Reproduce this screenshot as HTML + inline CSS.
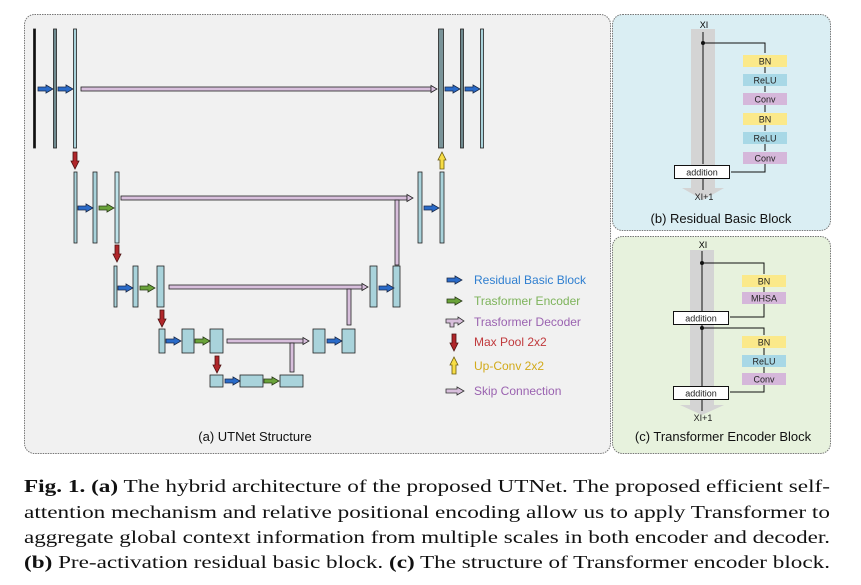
<!DOCTYPE html>
<html><head><meta charset="utf-8"><style>
html,body{margin:0;padding:0;background:#fff;}
svg{display:block;font-family:"Liberation Sans",sans-serif;}
</style></head><body>
<svg width="861" height="585" viewBox="0 0 861 585" xmlns="http://www.w3.org/2000/svg">
<defs>
<g id="ab"><polygon points="0,-2 8,-2 8,-4 15,0 8,4 8,2 0,2" fill="#2a6bc9" stroke="#1b2b4a" stroke-width="0.8"/></g>
<g id="ag"><polygon points="0,-2 8,-2 8,-4 15,0 8,4 8,2 0,2" fill="#6aa33a" stroke="#2b3b1a" stroke-width="0.8"/></g>
<g id="ar"><polygon points="-2,0 2,0 2,9 4,9 0,17 -4,9 -2,9" fill="#b0262a" stroke="#4a1010" stroke-width="0.8"/></g>
<g id="ay"><polygon points="-2,17 2,17 2,8 4,8 0,0 -4,8 -2,8" fill="#f7dd45" stroke="#6a5a10" stroke-width="0.8"/></g>
</defs>
<!-- panels -->
<rect x="24.5" y="14.5" width="586" height="439" rx="10" fill="#f1f1f1" stroke="#777" stroke-dasharray="1.5,1"/>
<rect x="612.5" y="14.5" width="218" height="216" rx="10" fill="#daeef3" stroke="#777" stroke-dasharray="1.5,1"/>
<rect x="612.5" y="236.5" width="218" height="217" rx="10" fill="#e7f2dd" stroke="#777" stroke-dasharray="1.5,1"/>

<g stroke="#222" stroke-width="0.8">
<!-- level1 -->
<rect x="33.5" y="29" width="2" height="119" fill="#111"/>
<rect x="53.5" y="29" width="3" height="119" fill="#6f8a8f"/>
<rect x="73.5" y="29" width="3" height="119" fill="#a9d3db"/>
<rect x="81" y="87" width="350" height="4" fill="#d8bfdc"/>
<polygon points="431,85.5 437,89 431,92.5" fill="#d8bfdc"/>
<rect x="438.5" y="29" width="5" height="119" fill="#7a9499"/>
<rect x="460.5" y="29" width="3" height="119" fill="#6f8a8f"/>
<rect x="480.5" y="29" width="3" height="119" fill="#a9d3db"/>
<!-- level2 -->
<rect x="74" y="172" width="3" height="71" fill="#a9d3db"/>
<rect x="93" y="172" width="4" height="71" fill="#a9d3db"/>
<rect x="115" y="172" width="4" height="71" fill="#bfe3ea"/>
<rect x="121" y="196" width="286" height="4" fill="#d8bfdc"/>
<polygon points="407,194.5 413,198 407,201.5" fill="#d8bfdc"/>
<rect x="395" y="200" width="4" height="65" fill="#d8bfdc"/>
<rect x="418" y="172" width="4" height="71" fill="#a9d3db"/>
<rect x="440" y="172" width="4" height="71" fill="#a9d3db"/>
<!-- level3 -->
<rect x="114" y="266" width="3" height="41" fill="#a9d3db"/>
<rect x="133" y="266" width="5" height="41" fill="#a9d3db"/>
<rect x="157" y="266" width="7" height="41" fill="#a9d3db"/>
<rect x="169" y="285" width="194" height="4" fill="#d8bfdc"/>
<polygon points="362,283.5 368,287 362,290.5" fill="#d8bfdc"/>
<rect x="347" y="289" width="4" height="36" fill="#d8bfdc"/>
<rect x="370" y="266" width="7" height="41" fill="#a9d3db"/>
<rect x="393" y="266" width="7" height="41" fill="#a9d3db"/>
<!-- level4 -->
<rect x="159" y="329" width="6" height="24" fill="#a9d3db"/>
<rect x="182" y="329" width="12" height="24" fill="#a9d3db"/>
<rect x="210" y="329" width="13" height="24" fill="#a9d3db"/>
<rect x="227" y="339" width="77" height="4" fill="#d8bfdc"/>
<polygon points="303,337.5 309,341 303,344.5" fill="#d8bfdc"/>
<rect x="290" y="343" width="4" height="29" fill="#d8bfdc"/>
<rect x="313" y="329" width="12" height="24" fill="#a9d3db"/>
<rect x="342" y="329" width="13" height="24" fill="#a9d3db"/>
<!-- level5 -->
<rect x="210" y="375" width="13" height="12" fill="#a9d3db"/>
<rect x="240" y="375" width="23" height="12" fill="#a9d3db"/>
<rect x="280" y="375" width="23" height="12" fill="#a9d3db"/>
</g>
<!-- arrows -->
<use href="#ab" x="38" y="89"/><use href="#ab" x="58" y="89"/>
<use href="#ab" x="445" y="89"/><use href="#ab" x="465" y="89"/>
<use href="#ab" x="78" y="208"/><use href="#ag" x="99" y="208"/>
<use href="#ab" x="424" y="208"/>
<use href="#ab" x="118" y="288"/><use href="#ag" x="140" y="288"/>
<use href="#ab" x="379" y="288"/>
<use href="#ab" x="166" y="341"/><use href="#ag" x="195" y="341"/>
<use href="#ab" x="327" y="341"/>
<use href="#ab" x="225" y="381"/><use href="#ag" x="264" y="381"/>
<use href="#ar" x="75" y="152"/><use href="#ar" x="117" y="245"/>
<use href="#ar" x="162" y="310"/><use href="#ar" x="217" y="356"/>
<use href="#ay" x="442" y="152"/>
<!-- legend -->
<use href="#ab" x="447" y="280"/><use href="#ag" x="447" y="301"/>
<g stroke="#333" stroke-width="0.8" fill="#d8bfdc"><polygon points="446,319 458,319 458,317 464,321 458,325 458,323 454,323 454,327 450,327 450,323 446,323"/>
<polygon points="446,389 457,389 457,387 464,391 457,395 457,393 446,393"/></g>
<use href="#ar" x="454" y="334"/><use href="#ay" x="454" y="357"/>
<g font-size="12">
<text x="474" y="284" fill="#2f7fd0">Residual Basic Block</text>
<text x="474" y="305" fill="#7db35a">Trasformer Encoder</text>
<text x="474" y="326" fill="#9a62b0">Trasformer Decoder</text>
<text x="474" y="346" fill="#c0393c">Max Pool 2x2</text>
<text x="474" y="370" fill="#d2aa1a">Up-Conv 2x2</text>
<text x="474" y="395" fill="#9a62b0">Skip Connection</text>
</g>
<text x="255" y="441" font-size="13" text-anchor="middle" fill="#111">(a) UTNet Structure</text>

<!-- panel b -->
<polygon points="691,29 715,29 715,188 724,188 703,200 682,188 691,188" fill="#d4d4d4"/>
<text x="704" y="28" font-size="9" text-anchor="middle">XI</text>
<g stroke="#111" stroke-width="1" fill="none">
<line x1="703" y1="32" x2="703" y2="164"/>
<polyline points="703,43 765,43 765,53"/>
<line x1="765" y1="67" x2="765" y2="73"/><line x1="765" y1="86" x2="765" y2="92"/>
<line x1="765" y1="105" x2="765" y2="112"/><line x1="765" y1="125" x2="765" y2="131"/>
<line x1="765" y1="144" x2="765" y2="151"/>
<polyline points="765,164 765,172 731,172"/>
<line x1="703" y1="178" x2="703" y2="190"/>
</g>
<circle cx="703" cy="43" r="2" fill="#111"/>
<g font-size="9" text-anchor="middle" fill="#222">
<rect x="743" y="55" width="44" height="12" fill="#fbe98a"/><text x="765" y="64.5">BN</text>
<rect x="743" y="74" width="44" height="12" fill="#a8d8e6"/><text x="765" y="83.5">ReLU</text>
<rect x="743" y="93" width="44" height="12" fill="#d5b7da"/><text x="765" y="102.5">Conv</text>
<rect x="743" y="113" width="44" height="12" fill="#fbe98a"/><text x="765" y="122.5">BN</text>
<rect x="743" y="132" width="44" height="12" fill="#a8d8e6"/><text x="765" y="141.5">ReLU</text>
<rect x="743" y="152" width="44" height="12" fill="#d5b7da"/><text x="765" y="161.5">Conv</text>
<rect x="674.5" y="165.5" width="55" height="13" fill="#fff" stroke="#111"/><text x="702" y="175.5">addition</text>
<text x="704" y="200">XI+1</text>
</g>
<text x="721" y="223" font-size="13" text-anchor="middle" fill="#111">(b) Residual Basic Block</text>

<!-- panel c -->
<polygon points="690,250 714,250 714,405 724,405 702,415 680,405 690,405" fill="#d4d4d4"/>
<text x="703" y="248" font-size="9" text-anchor="middle">XI</text>
<g stroke="#111" stroke-width="1" fill="none">
<line x1="702" y1="251" x2="702" y2="311"/>
<polyline points="702,263 764,263 764,274"/>
<line x1="764" y1="287" x2="764" y2="292"/>
<polyline points="764,304 764,317 730,317"/>
<line x1="702" y1="324" x2="702" y2="386"/>
<polyline points="702,328 764,328 764,335"/>
<line x1="764" y1="348" x2="764" y2="355"/><line x1="764" y1="367" x2="764" y2="373"/>
<polyline points="764,385 764,392 730,392"/>
<line x1="702" y1="399" x2="702" y2="411"/>
</g>
<circle cx="702" cy="263" r="2" fill="#111"/><circle cx="702" cy="328" r="2" fill="#111"/>
<g font-size="9" text-anchor="middle" fill="#222">
<rect x="742" y="275" width="44" height="12" fill="#fbe98a"/><text x="764" y="284.5">BN</text>
<rect x="742" y="292" width="44" height="12" fill="#d5b7da"/><text x="764" y="301.5">MHSA</text>
<rect x="673.5" y="311.5" width="55" height="13" fill="#fff" stroke="#111"/><text x="701" y="321.5">addition</text>
<rect x="742" y="336" width="44" height="12" fill="#fbe98a"/><text x="764" y="345.5">BN</text>
<rect x="742" y="355" width="44" height="12" fill="#a8d8e6"/><text x="764" y="364.5">ReLU</text>
<rect x="742" y="373" width="44" height="12" fill="#d5b7da"/><text x="764" y="382.5">Conv</text>
<rect x="673.5" y="386.5" width="55" height="13" fill="#fff" stroke="#111"/><text x="701" y="396.5">addition</text>
<text x="703" y="421">XI+1</text>
</g>
<text x="723" y="441" font-size="13" text-anchor="middle" fill="#111">(c) Transformer Encoder Block</text>

<!-- caption -->
<g font-family="Liberation Serif, serif" font-size="18" fill="#111">
<text x="24" y="492" textLength="806" lengthAdjust="spacingAndGlyphs"><tspan font-weight="bold">Fig. 1. (a)</tspan> The hybrid architecture of the proposed UTNet. The proposed efficient self-</text>
<text x="24" y="518" textLength="806" lengthAdjust="spacingAndGlyphs">attention mechanism and relative positional encoding allow us to apply Transformer to</text>
<text x="24" y="543" textLength="806" lengthAdjust="spacingAndGlyphs">aggregate global context information from multiple scales in both encoder and decoder.</text>
<text x="24" y="568" textLength="806" lengthAdjust="spacingAndGlyphs"><tspan font-weight="bold">(b)</tspan> Pre-activation residual basic block. <tspan font-weight="bold">(c)</tspan> The structure of Transformer encoder block.</text>
</g>
</svg>
</body></html>
